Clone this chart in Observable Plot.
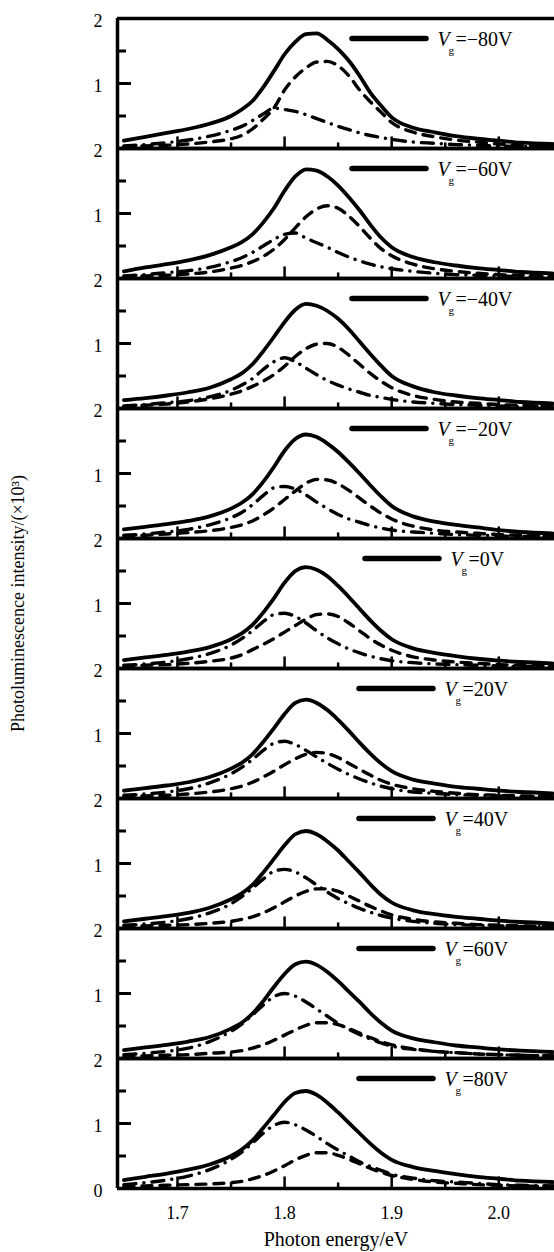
<!DOCTYPE html>
<html>
<head>
<meta charset="utf-8">
<script src="https://cdn.jsdelivr.net/npm/d3@7"></script>
<script src="https://cdn.jsdelivr.net/npm/@observablehq/plot@0.6"></script>
<style>
  html, body { margin: 0; padding: 0; background: #fff; }
  #chart { width: 554px; height: 1252px; overflow: hidden; }
</style>
</head>
<body>
<div id="chart"></div>
<script>
// ---- data ----
const energies = [1.65,1.67,1.69,1.71,1.73,1.75,1.76,1.77,1.78,1.79,1.80,1.81,1.82,1.83,1.84,1.85,1.86,1.87,1.88,1.89,1.90,1.92,1.94,1.96,1.98,2.00,2.02,2.05];
const gateVoltages = ["−80","−60","−40","−20","0","20","40","60","80"];

// total PL (solid line), one list per panel, top to bottom
const totalPL = [
  [0.12,0.18,0.24,0.30,0.38,0.50,0.60,0.73,0.94,1.19,1.45,1.64,1.76,1.77,1.67,1.53,1.35,1.12,0.86,0.66,0.48,0.32,0.25,0.19,0.15,0.12,0.09,0.07],
  [0.11,0.17,0.22,0.28,0.36,0.48,0.56,0.68,0.86,1.08,1.35,1.57,1.68,1.66,1.57,1.43,1.25,1.05,0.83,0.63,0.48,0.33,0.25,0.20,0.16,0.13,0.10,0.08],
  [0.13,0.16,0.20,0.25,0.32,0.45,0.54,0.68,0.88,1.10,1.33,1.52,1.61,1.58,1.50,1.38,1.22,1.03,0.84,0.66,0.50,0.34,0.25,0.20,0.16,0.13,0.10,0.08],
  [0.14,0.18,0.22,0.27,0.34,0.46,0.55,0.68,0.87,1.10,1.35,1.53,1.60,1.56,1.46,1.33,1.17,1.00,0.82,0.65,0.50,0.34,0.26,0.21,0.17,0.13,0.10,0.08],
  [0.13,0.17,0.21,0.26,0.33,0.45,0.54,0.67,0.86,1.08,1.32,1.50,1.56,1.52,1.42,1.27,1.10,0.92,0.74,0.58,0.45,0.31,0.24,0.19,0.15,0.12,0.10,0.08],
  [0.12,0.16,0.20,0.25,0.33,0.46,0.55,0.68,0.87,1.08,1.30,1.47,1.52,1.47,1.36,1.21,1.04,0.86,0.69,0.54,0.42,0.29,0.23,0.18,0.15,0.12,0.10,0.08],
  [0.11,0.15,0.19,0.24,0.32,0.45,0.54,0.67,0.86,1.07,1.28,1.45,1.50,1.45,1.34,1.20,1.03,0.86,0.68,0.52,0.40,0.28,0.22,0.18,0.15,0.12,0.10,0.08],
  [0.13,0.17,0.21,0.26,0.33,0.46,0.55,0.69,0.88,1.10,1.30,1.45,1.49,1.44,1.33,1.19,1.03,0.87,0.70,0.55,0.43,0.31,0.25,0.20,0.17,0.14,0.12,0.10],
  [0.13,0.18,0.23,0.29,0.37,0.50,0.60,0.74,0.93,1.13,1.33,1.47,1.50,1.44,1.32,1.17,1.01,0.85,0.69,0.55,0.44,0.33,0.27,0.22,0.18,0.15,0.12,0.10]
];

// high-energy component (dashed line)
const dashedPL = [
  [0.03,0.04,0.05,0.07,0.10,0.15,0.20,0.30,0.45,0.62,0.90,1.10,1.24,1.33,1.34,1.27,1.12,0.90,0.72,0.56,0.40,0.25,0.18,0.13,0.10,0.07,0.05,0.04],
  [0.03,0.04,0.05,0.07,0.10,0.16,0.20,0.26,0.34,0.45,0.60,0.78,0.95,1.07,1.12,1.08,0.96,0.80,0.62,0.46,0.35,0.22,0.15,0.11,0.08,0.06,0.05,0.04],
  [0.03,0.05,0.07,0.10,0.15,0.22,0.27,0.34,0.42,0.52,0.65,0.80,0.92,0.99,1.00,0.94,0.82,0.68,0.54,0.42,0.32,0.20,0.14,0.10,0.08,0.06,0.05,0.04],
  [0.04,0.05,0.07,0.09,0.12,0.17,0.21,0.27,0.36,0.47,0.60,0.73,0.85,0.91,0.90,0.84,0.74,0.62,0.50,0.39,0.30,0.19,0.13,0.10,0.08,0.06,0.05,0.04],
  [0.04,0.05,0.06,0.08,0.11,0.16,0.21,0.29,0.37,0.46,0.56,0.66,0.76,0.83,0.84,0.80,0.70,0.58,0.46,0.36,0.28,0.18,0.13,0.10,0.08,0.06,0.05,0.04],
  [0.03,0.04,0.05,0.07,0.10,0.15,0.19,0.25,0.33,0.42,0.52,0.61,0.68,0.71,0.69,0.63,0.54,0.45,0.36,0.28,0.22,0.15,0.11,0.08,0.06,0.05,0.04,0.03],
  [0.03,0.04,0.05,0.06,0.08,0.11,0.14,0.18,0.24,0.32,0.41,0.50,0.57,0.61,0.61,0.57,0.50,0.42,0.34,0.27,0.21,0.14,0.10,0.08,0.06,0.05,0.04,0.03],
  [0.03,0.04,0.05,0.06,0.08,0.10,0.12,0.16,0.21,0.28,0.36,0.44,0.51,0.55,0.55,0.52,0.46,0.39,0.32,0.26,0.21,0.15,0.11,0.09,0.07,0.06,0.05,0.04],
  [0.03,0.04,0.05,0.06,0.07,0.09,0.11,0.15,0.20,0.27,0.35,0.44,0.51,0.55,0.55,0.51,0.45,0.38,0.31,0.25,0.20,0.14,0.10,0.08,0.06,0.05,0.04,0.03]
];

// low-energy component (dash-dot line)
const dashDotPL = [
  [0.04,0.06,0.09,0.13,0.19,0.28,0.34,0.43,0.53,0.62,0.60,0.57,0.52,0.46,0.40,0.34,0.29,0.24,0.20,0.17,0.14,0.10,0.08,0.06,0.05,0.04,0.03,0.03],
  [0.04,0.06,0.09,0.12,0.17,0.26,0.32,0.40,0.50,0.60,0.68,0.70,0.62,0.55,0.48,0.40,0.33,0.27,0.22,0.18,0.15,0.11,0.08,0.06,0.05,0.04,0.03,0.03],
  [0.04,0.06,0.09,0.12,0.18,0.28,0.36,0.46,0.60,0.72,0.78,0.72,0.62,0.52,0.43,0.36,0.30,0.25,0.20,0.17,0.14,0.10,0.08,0.06,0.05,0.04,0.03,0.03],
  [0.05,0.07,0.10,0.14,0.21,0.32,0.40,0.52,0.66,0.78,0.80,0.76,0.67,0.56,0.46,0.37,0.30,0.25,0.20,0.16,0.13,0.10,0.08,0.06,0.05,0.04,0.03,0.03],
  [0.05,0.07,0.10,0.15,0.23,0.36,0.46,0.58,0.72,0.83,0.85,0.80,0.70,0.58,0.47,0.38,0.30,0.24,0.19,0.15,0.12,0.09,0.07,0.06,0.05,0.04,0.03,0.03],
  [0.05,0.07,0.10,0.15,0.24,0.38,0.48,0.60,0.74,0.85,0.88,0.83,0.74,0.64,0.54,0.45,0.37,0.30,0.24,0.19,0.15,0.10,0.08,0.06,0.05,0.04,0.03,0.03],
  [0.05,0.07,0.10,0.15,0.24,0.38,0.49,0.62,0.76,0.88,0.91,0.87,0.78,0.67,0.56,0.46,0.38,0.31,0.25,0.20,0.16,0.11,0.08,0.06,0.05,0.04,0.03,0.03],
  [0.06,0.08,0.11,0.16,0.26,0.42,0.53,0.67,0.82,0.95,1.00,0.96,0.87,0.76,0.65,0.54,0.45,0.37,0.30,0.24,0.19,0.14,0.11,0.09,0.07,0.06,0.05,0.04],
  [0.06,0.09,0.13,0.19,0.29,0.45,0.56,0.70,0.85,0.97,1.02,0.98,0.90,0.80,0.69,0.59,0.50,0.41,0.34,0.28,0.22,0.16,0.12,0.10,0.08,0.06,0.05,0.04]
];

const xTickLabels = [1.7, 1.8, 1.9, 2.0];
const xMinorTicks = [1.75, 1.85, 1.95, 2.05];
const yTickLabels = [0, 1, 2];
const yMinorTicks = [0.5, 1.5];
const xTitle = "Photon energy/eV";
const yTitle = "Photoluminescence intensity/(×10³)";

// ---- layout ----
const W = 554, H = 1252;
const mL = 117, mR = 0, mT = 16, mB = 62;
const nPanels = gateVoltages.length;
const panelH = (H - mT - mB) / nPanels;
const xDomain = [1.644, 2.052];
const font = "'Liberation Serif', 'Times New Roman', serif";

const rows = [];
[["total", totalPL], ["dashed", dashedPL], ["dashdot", dashDotPL]].forEach(([series, lists]) => {
  lists.forEach((list, p) => list.forEach((v, i) => rows.push({panel: p, series, e: energies[i], v})));
});

const yLabelRows = [];
for (let p = 0; p < nPanels; p++) {
  for (const t of yTickLabels) {
    if (t === 0 && p !== nPanels - 1) continue;
    yLabelRows.push({panel: p, v: t});
  }
}

// legend placement (pixel layout, eV units)
const pxToEv = (xDomain[1] - xDomain[0]) / (W - mL - mR);
function legendStart(p) {
  if (p < 4) return xDomain[0] + (352 - mL) * pxToEv;
  if (p === 4) return xDomain[0] + (365 - mL) * pxToEv;
  return xDomain[0] + (359 - mL) * pxToEv;
}
const legendLen = 74 * pxToEv;
const legendRows = gateVoltages.map((v, p) => ({panel: p, label: v, x1: legendStart(p), x2: legendStart(p) + legendLen}));
const legendY = 2 - 20 / (panelH / 2);

const lineOpts = {x: "e", y: "v", fy: "panel", z: "panel", stroke: "#000", strokeWidth: 3.4, curve: "monotone-x", strokeLinejoin: "round"};

const plot = Plot.plot({
  width: W, height: H,
  marginLeft: mL, marginRight: mR, marginTop: mT, marginBottom: mB,
  x: {domain: xDomain, axis: null},
  y: {domain: [0, 2], axis: null},
  fy: {domain: d3.range(nPanels), padding: 0, axis: null},
  style: {fontFamily: font, fontSize: "18px", background: "#fff", color: "#000", overflow: "visible"},
  marks: [
    // curves
    Plot.line(rows.filter(d => d.series === "dashdot"), {...lineOpts, strokeDasharray: "12,8,0.1,8", strokeLinecap: "round"}),
    Plot.line(rows.filter(d => d.series === "dashed"), {...lineOpts, strokeDasharray: "10,8", strokeLinecap: "round"}),
    Plot.line(rows.filter(d => d.series === "total"), {...lineOpts, strokeWidth: 3.8}),
    // inward ticks
    Plot.tickY(yMinorTicks, {y: d => d, stroke: "#000", strokeWidth: 3, insetRight: (W - mL - mR) - 9}),
    Plot.tickY([1], {y: d => d, stroke: "#000", strokeWidth: 3, insetRight: (W - mL - mR) - 14}),
    Plot.tickX(xTickLabels, {x: d => d, stroke: "#000", strokeWidth: 2.5, insetTop: panelH - 12}),
    Plot.tickX(xMinorTicks, {x: d => d, stroke: "#000", strokeWidth: 2.5, insetTop: panelH - 6}),
    // frame lines
    Plot.ruleY([0, 2], {stroke: "#000", strokeWidth: 3.5}),
    Plot.ruleX([xDomain[0]], {stroke: "#000", strokeWidth: 3.5}),
    // y tick labels
    Plot.text(yLabelRows, {fy: "panel", y: "v", frameAnchor: "left", dx: -15, dy: 3, text: d => String(d.v), textAnchor: "end", fontSize: 18}),
    // x tick labels
    Plot.text(xTickLabels, {x: d => d, fy: () => nPanels - 1, frameAnchor: "bottom", dy: 30, text: d => d.toFixed(1), fontSize: 18}),
    // axis titles
    Plot.text([xTitle], {fy: () => nPanels - 1, frameAnchor: "bottom", dy: 57, text: d => d, fontSize: 20}),
    Plot.text([yTitle], {fy: () => 4, frameAnchor: "left", dx: -99, rotate: -90, text: d => d, fontSize: 18, textAnchor: "middle", ariaLabel: "ytitle"}),
    // legend
    Plot.ruleY(legendRows, {fy: "panel", y: () => legendY, x1: "x1", x2: "x2", stroke: "#000", strokeWidth: 5.5, strokeLinecap: "round"}),
    Plot.text(legendRows, {fy: "panel", y: () => legendY, x: "x2", dx: 11, dy: 8, text: () => "V", fontStyle: "italic", fontSize: 20, textAnchor: "start", lineAnchor: "bottom"}),
    Plot.text(legendRows, {fy: "panel", y: () => legendY, x: "x2", dx: 22, dy: 16, text: () => "g", fontSize: 11, textAnchor: "start", lineAnchor: "bottom"}),
    Plot.text(legendRows, {fy: "panel", y: () => legendY, x: "x2", dx: 29, dy: 8, text: d => "=" + d.label + "V", fontSize: 20, textAnchor: "start", lineAnchor: "bottom", ariaLabel: "legendeq"})
  ]
});

// the reference's vertical title is stretched along its length
d3.select(plot).selectAll('g[aria-label="ytitle"] text')
  .attr("textLength", 432).attr("lengthAdjust", "spacingAndGlyphs");
d3.select(plot).selectAll('g[aria-label="legendeq"] text')
  .style("letter-spacing", "1.5px");

document.getElementById("chart").appendChild(plot);
</script>
</body>
</html>
